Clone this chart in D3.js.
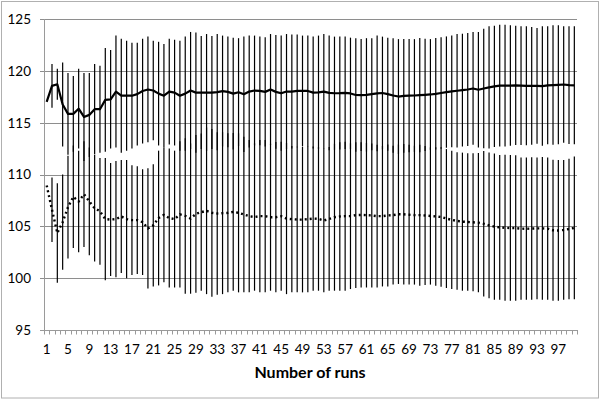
<!DOCTYPE html>
<html>
<head>
<meta charset="utf-8">
<script src="https://cdn.jsdelivr.net/npm/d3@7"></script>
<style>
  html, body { margin: 0; padding: 0; background: #fff; }
  svg { display: block; }
  text { font-family: Lato, "Open Sans", "Liberation Sans", sans-serif; fill: #000; }
</style>
</head>
<body>
<svg id="chart" width="600" height="401"></svg>
<script>
// ---- data ----
const runs = d3.range(1, 101);
const xTickLabels = d3.range(1, 101, 4);
const yTicks = [95, 100, 105, 110, 115, 120, 125];
const xTitle = "Number of runs";

const meanUpper = [
  117.0, 118.55, 118.7, 116.75, 115.85, 115.85, 116.35, 115.55, 115.75, 116.3,
  116.3, 117.2, 117.25, 118.0, 117.6, 117.6, 117.6, 117.75, 118.05, 118.2,
  118.1, 117.8, 117.6, 118.0, 117.9, 117.6, 117.8, 118.1, 117.9, 117.9,
  117.9, 117.9, 117.95, 118.05, 117.97, 117.8, 117.94, 117.74, 118.0, 118.1,
  118.06, 117.97, 118.2, 117.97, 117.84, 118.0, 118.0, 118.06, 118.06, 118.06,
  117.9, 117.92, 118.0, 117.87, 117.84, 117.85, 117.88, 117.82, 117.67, 117.66,
  117.68, 117.75, 117.82, 117.86, 117.75, 117.62, 117.52, 117.58, 117.6, 117.62,
  117.65, 117.68, 117.72, 117.78, 117.86, 117.95, 118.02, 118.08, 118.14, 118.2,
  118.3, 118.17, 118.3, 118.4, 118.5, 118.57, 118.58, 118.58, 118.6, 118.57,
  118.55, 118.55, 118.55, 118.53, 118.6, 118.63, 118.65, 118.68, 118.62, 118.6
];
const errUpper = [
  0, 2.1, 1.5, 4.05, 3.95, 3.65, 3.85, 4.25, 4.05, 4.35,
  4.2, 5.0, 4.75, 5.4, 5.5, 5.3, 5.1, 4.95, 5.05, 5.1,
  4.8, 5.0, 5.0, 5.1, 5.1, 5.3, 5.5, 5.65, 5.8, 5.45,
  5.65, 5.45, 5.6, 5.35, 5.33, 5.4, 5.21, 5.56, 5.4, 5.3,
  5.24, 5.28, 5.35, 5.48, 5.56, 5.55, 5.5, 5.44, 5.34, 5.34,
  5.4, 5.48, 5.55, 5.53, 5.46, 5.45, 5.42, 5.38, 5.48, 5.4,
  5.47, 5.4, 5.58, 5.44, 5.45, 5.53, 5.54, 5.48, 5.46, 5.44,
  5.51, 5.42, 5.34, 5.38, 5.37, 5.37, 5.4, 5.47, 5.44, 5.45,
  5.44, 5.57, 5.76, 5.89, 5.85, 5.88, 5.87, 5.81, 5.75, 5.72,
  5.74, 5.68, 5.58, 5.76, 5.69, 5.76, 5.74, 5.61, 5.67, 5.69
];
const meanLower = [
  108.95, 106.6, 104.35, 105.4, 106.85, 107.85, 107.4, 108.1, 107.4, 106.75,
  106.45, 105.7, 105.65, 105.7, 105.95, 105.7, 105.6, 105.6, 105.4, 104.8,
  105.1, 105.8, 106.1, 105.8, 105.7, 106.15, 106.0, 105.75, 106.2, 106.37,
  106.5, 106.3, 106.24, 106.27, 106.3, 106.4, 106.3, 106.14, 105.98, 105.9,
  105.98, 105.98, 105.88, 105.88, 105.98, 105.75, 105.69, 105.65, 105.65, 105.69,
  105.75, 105.72, 105.56, 105.72, 105.88, 105.95, 105.98, 105.98, 106.08, 106.1,
  106.08, 106.05, 105.98, 105.98, 106.05, 106.08, 106.17, 106.16, 106.12, 106.08,
  106.08, 106.05, 106.0, 105.96, 105.9, 105.75, 105.62, 105.52, 105.45, 105.42,
  105.39, 105.35, 105.25, 105.1, 104.97, 104.9, 104.86, 104.84, 104.83, 104.78,
  104.77, 104.79, 104.8, 104.8, 104.77, 104.62, 104.6, 104.65, 104.74, 104.85
];
const errLower = [
  0, 3.1, 4.8, 4.6, 4.95, 4.95, 4.9, 5.1, 5.2, 5.15,
  5.15, 5.9, 5.45, 5.6, 5.45, 5.7, 5.3, 5.2, 5.1, 5.8,
  5.9, 6.5, 6.5, 6.7, 6.6, 7.05, 7.5, 7.25, 7.6, 7.58,
  8.04, 8.1, 7.84, 7.81, 7.67, 7.61, 7.67, 7.51, 7.35, 7.11,
  7.35, 7.35, 7.09, 7.25, 7.19, 7.29, 7.06, 7.02, 7.02, 7.06,
  6.96, 6.93, 6.93, 6.93, 7.09, 7.16, 7.19, 7.03, 7.03, 7.0,
  6.98, 6.95, 6.88, 6.78, 6.85, 6.7, 6.73, 6.78, 6.74, 6.7,
  6.8, 6.7, 6.62, 6.68, 6.72, 6.7, 6.67, 6.63, 6.66, 6.63,
  6.66, 6.72, 7.01, 7.03, 7.06, 6.99, 7.05, 7.03, 7.02, 6.87,
  6.86, 6.88, 6.83, 6.89, 6.86, 6.81, 6.79, 6.74, 6.77, 6.88
];

// ---- chart ----
const svg = d3.select("#chart");
const W = 600, H = 401;
const plot = { left: 44, right: 577, top: 19, bottom: 330 };

svg.append("rect").attr("width", W).attr("height", H).attr("fill", "#fff");
svg.append("rect")
  .attr("x", 1.5).attr("y", 1.5).attr("width", 597).attr("height", 396.5)
  .attr("fill", "none").attr("stroke", "#b0b0b0").attr("stroke-width", 1);

const x = d3.scaleBand().domain(runs).range([plot.left, plot.right]).padding(0);
const y = d3.scaleLinear().domain([95, 125]).range([plot.bottom, plot.top]);
const cx = d => x(d) + x.bandwidth() / 2;

// gridlines (with outward tick)
svg.append("g").selectAll("line").data(yTicks.filter(v => v > 95)).join("line")
  .attr("x1", plot.left - 4).attr("x2", plot.right)
  .attr("y1", d => Math.round(y(d)) + 0.5).attr("y2", d => Math.round(y(d)) + 0.5)
  .attr("stroke", "#8e8e8e").attr("stroke-width", 1);

// y axis line
svg.append("line")
  .attr("x1", plot.left + 0.5).attr("x2", plot.left + 0.5)
  .attr("y1", plot.top).attr("y2", plot.bottom + 0.5)
  .attr("stroke", "#9a9a9a");

// x axis line + ticks
svg.append("line")
  .attr("x1", plot.left - 4).attr("x2", plot.right)
  .attr("y1", plot.bottom + 0.5).attr("y2", plot.bottom + 0.5)
  .attr("stroke", "#9a9a9a");
const boundaries = runs.map(d => x(d)).concat([plot.right]);
svg.append("g").selectAll("line").data(boundaries).join("line")
  .attr("x1", d => Math.round(d) + 0.5).attr("x2", d => Math.round(d) + 0.5)
  .attr("y1", plot.bottom).attr("y2", plot.bottom + 4.5)
  .attr("stroke", "#9a9a9a");

// y tick labels
svg.append("g").selectAll("text").data(yTicks).join("text")
  .attr("x", 31).attr("y", d => y(d))
  .attr("dy", "0.36em").attr("text-anchor", "end")
  .style("font-size", "13.5px").text(d => d);

// x tick labels
svg.append("g").selectAll("text").data(xTickLabels).join("text")
  .attr("x", d => cx(d)).attr("y", 349)
  .attr("dy", "0.36em").attr("text-anchor", "middle")
  .style("font-size", "13.5px").text(d => d);

// x title
svg.append("text")
  .attr("x", 310).attr("y", 372).attr("dy", "0.36em")
  .attr("text-anchor", "middle")
  .style("font-size", "16px").style("font-weight", "bold")
  .text(xTitle);

// error bars
const errGroup = svg.append("g");
function drawErr(means, errs) {
  errGroup.append("g").selectAll("line").data(runs.filter((d, i) => errs[i] > 0)).join("line")
    .attr("x1", d => cx(d)).attr("x2", d => cx(d))
    .attr("y1", d => y(means[d - 1] + errs[d - 1]))
    .attr("y2", d => y(means[d - 1] - errs[d - 1]))
    .attr("stroke", "#000").attr("stroke-width", 1.2);
}
drawErr(meanLower, errLower);
drawErr(meanUpper, errUpper);

// lines
const lineGen = vals => d3.line().x(d => cx(d)).y(d => y(vals[d - 1]))(runs);
svg.append("path").attr("d", lineGen(meanLower))
  .attr("fill", "none").attr("stroke", "#000").attr("stroke-width", 2.4)
  .attr("stroke-dasharray", "2,3");
svg.append("path").attr("d", lineGen(meanUpper))
  .attr("fill", "none").attr("stroke", "#000").attr("stroke-width", 2.2)
  .attr("stroke-linejoin", "round");
</script>
</body>
</html>
